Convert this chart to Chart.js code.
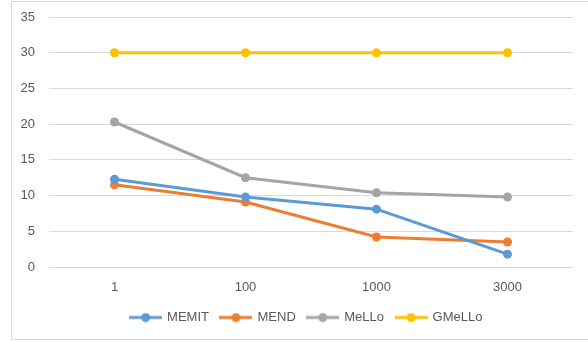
<!DOCTYPE html>
<html>
<head>
<meta charset="utf-8">
<script src="https://cdn.jsdelivr.net/npm/chart.js@4.4.1/dist/chart.umd.min.js"></script>
<style>
    html, body { margin: 0; padding: 0; background: #fff; overflow: hidden; }
    #wrap { position: relative; width: 588px; height: 342px; }
    #frame {
        position: absolute; left: 11px; top: 1px; width: 600px; height: 337px;
        border: 1px solid #d9d9d9; pointer-events: none;
    }
    canvas { position: absolute; left: 0; top: 0; }
</style>
</head>
<body>
<div id="wrap">
    <div id="frame"></div>
    <canvas id="chart" width="588" height="342"></canvas>
</div>
<script>
// --- DATA ---
const categories = ['1', '100', '1000', '3000'];
const memitValues = [12.3, 9.8, 8.1, 1.8];
const mendValues = [11.5, 9.1, 4.2, 3.5];
const melloValues = [20.3, 12.5, 10.4, 9.8];
const gmelloValues = [30, 30, 30, 30];
const yTicks = [0, 5, 10, 15, 20, 25, 30, 35];

const seriesNames = ['MEMIT', 'MEND', 'MeLLo', 'GMeLLo'];
const seriesColors = ['#5B9BD5', '#ED7D31', '#A5A5A5', '#FFC000'];
const seriesValues = [memitValues, mendValues, melloValues, gmelloValues];

// legend marker: short line with a dot in the middle
const makeLegendMark = (color) => {
    const c = document.createElement('canvas');
    c.width = 33;
    c.height = 10;
    const g = c.getContext('2d');
    g.strokeStyle = color;
    g.lineWidth = 3;
    g.beginPath();
    g.moveTo(0, 5);
    g.lineTo(33, 5);
    g.stroke();
    g.fillStyle = color;
    g.beginPath();
    g.arc(16.5, 5, 4.5, 0, Math.PI * 2);
    g.fill();
    return c;
};
const legendMarks = seriesColors.map(makeLegendMark);

// nudge the legend a bit to the right, like the original
const legendShift = {
    id: 'legendShift',
    afterLayout: (chart) => {
        chart.legend.left += 20;
        chart.legend.right += 20;
    }
};

const textColor = '#595959';
const gridColor = '#d9d9d9';
Chart.defaults.font.family = '"Liberation Sans", Arial, sans-serif';
Chart.defaults.font.size = 13;
Chart.defaults.color = textColor;

new Chart(document.getElementById('chart').getContext('2d'), {
    type: 'line',
    data: {
        labels: categories,
        datasets: seriesNames.map((name, i) => ({
            label: name,
            data: seriesValues[i],
            borderColor: seriesColors[i],
            backgroundColor: seriesColors[i],
            borderWidth: 3,
            pointRadius: 4.5,
            pointHoverRadius: 4.5,
            pointBorderWidth: 0,
            tension: 0,
            fill: false,
        }))
    },
    options: {
        responsive: false,
        animation: false,
        layout: { padding: { left: 0, right: 15, top: 17, bottom: 8 } },
        scales: {
            x: {
                offset: true,
                grid: { display: false, drawTicks: false },
                border: { display: false },
                ticks: { padding: 13, color: textColor },
                afterFit: (scale) => { scale.height = 32; }
            },
            y: {
                min: 0,
                max: 35,
                afterBuildTicks: (scale) => { scale.ticks = yTicks.map(v => ({ value: v })); },
                grid: { color: gridColor, lineWidth: 1, drawTicks: false },
                border: { display: false },
                ticks: { padding: 14, color: textColor },
                afterFit: (scale) => {
                    scale.width = 49;
                    scale.paddingTop = 0;
                    scale.paddingBottom = 0;
                }
            }
        },
        plugins: {
            tooltip: { enabled: false },
            legend: {
                position: 'bottom',
                labels: {
                    usePointStyle: true,
                    pointStyleWidth: 30,
                    padding: 12,
                    color: textColor,
                    generateLabels: (chart) => {
                        const items = Chart.defaults.plugins.legend.labels.generateLabels(chart);
                        items.forEach((it, i) => { it.pointStyle = legendMarks[i]; });
                        return items;
                    }
                }
            }
        }
    },
    plugins: [legendShift]
});
</script>
</body>
</html>
